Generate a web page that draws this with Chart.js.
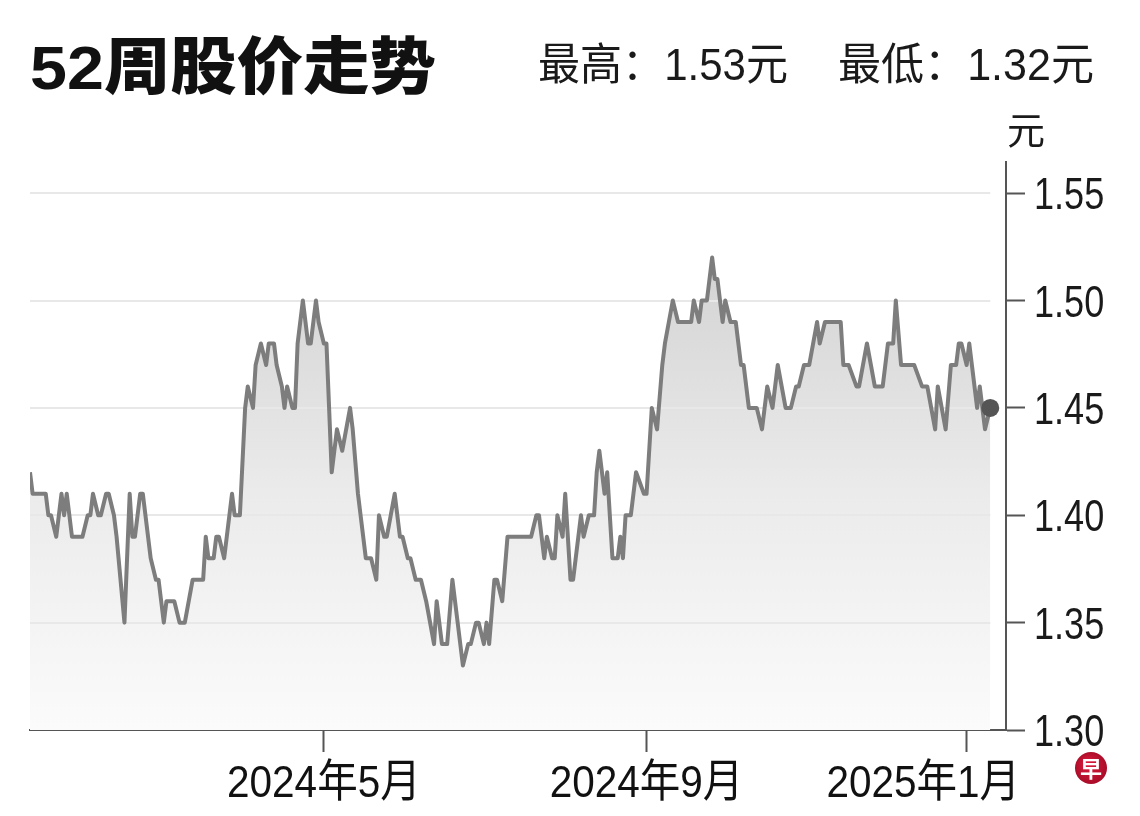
<!DOCTYPE html>
<html>
<head>
<meta charset="utf-8">
<script src="https://cdn.jsdelivr.net/npm/chart.js@4"></script>
<style>
  html, body { margin: 0; padding: 0; background: #ffffff; }
  canvas { display: block; }
</style>
</head>
<body>
<canvas id="c" width="1140" height="816"></canvas>
<script>
// ---------- DATA ----------
const TITLE = '52周股价走势';
const HIGH_TEXT = '最高：1.53元';
const LOW_TEXT = '最低：1.32元';
const UNIT = '元';

const DATES = [
  '2024-01-10','2024-01-11','2024-01-16','2024-01-17','2024-01-18','2024-01-20','2024-01-22','2024-01-23','2024-01-24','2024-01-26',
  '2024-01-30','2024-02-01','2024-02-02','2024-02-03','2024-02-05','2024-02-06','2024-02-08','2024-02-09','2024-02-11','2024-02-12',
  '2024-02-15','2024-02-17','2024-02-18','2024-02-19','2024-02-21','2024-02-22','2024-02-23','2024-02-25','2024-02-27','2024-02-28',
  '2024-03-01','2024-03-02','2024-03-05','2024-03-07','2024-03-09','2024-03-12','2024-03-16','2024-03-17','2024-03-18','2024-03-20',
  '2024-03-21','2024-03-22','2024-03-24','2024-03-27','2024-03-28','2024-03-30','2024-04-01','2024-04-02','2024-04-04','2024-04-05',
  '2024-04-07','2024-04-09','2024-04-10','2024-04-12','2024-04-13','2024-04-15','2024-04-16','2024-04-17','2024-04-19','2024-04-20',
  '2024-04-21','2024-04-22','2024-04-23','2024-04-25','2024-04-26','2024-04-28','2024-04-29','2024-05-01','2024-05-02','2024-05-04',
  '2024-05-06','2024-05-08','2024-05-11','2024-05-12','2024-05-14','2024-05-15','2024-05-17','2024-05-19','2024-05-21','2024-05-22',
  '2024-05-24','2024-05-25','2024-05-28','2024-05-30','2024-05-31','2024-06-02','2024-06-03','2024-06-05','2024-06-07','2024-06-09',
  '2024-06-12','2024-06-13','2024-06-15','2024-06-17','2024-06-19','2024-06-21','2024-06-23','2024-06-25','2024-06-26','2024-06-28',
  '2024-06-29','2024-07-01','2024-07-02','2024-07-03','2024-07-05','2024-07-06','2024-07-08','2024-07-10','2024-07-19','2024-07-21',
  '2024-07-22','2024-07-24','2024-07-25','2024-07-27','2024-07-28','2024-07-29','2024-07-31','2024-08-01','2024-08-03','2024-08-04',
  '2024-08-07','2024-08-08','2024-08-10','2024-08-12','2024-08-13','2024-08-14','2024-08-16','2024-08-17','2024-08-19','2024-08-21',
  '2024-08-22','2024-08-23','2024-08-24','2024-08-26','2024-08-28','2024-08-31','2024-09-01','2024-09-03','2024-09-05','2024-09-07',
  '2024-09-08','2024-09-11','2024-09-13','2024-09-18','2024-09-19','2024-09-21','2024-09-22','2024-09-24','2024-09-26','2024-09-27',
  '2024-09-28','2024-09-30','2024-10-01','2024-10-03','2024-10-05','2024-10-06','2024-10-07','2024-10-08','2024-10-10','2024-10-13',
  '2024-10-15','2024-10-17','2024-10-19','2024-10-21','2024-10-24','2024-10-26','2024-10-28','2024-10-29','2024-10-31','2024-11-02',
  '2024-11-05','2024-11-06','2024-11-08','2024-11-14','2024-11-15','2024-11-17','2024-11-20','2024-11-21','2024-11-24','2024-11-27',
  '2024-11-30','2024-12-02','2024-12-04','2024-12-05','2024-12-07','2024-12-12','2024-12-15','2024-12-17','2024-12-20','2024-12-21',
  '2024-12-24','2024-12-26','2024-12-28','2024-12-29','2024-12-30','2025-01-01','2025-01-02','2025-01-03','2025-01-05','2025-01-06',
  '2025-01-08','2025-01-10'
];

const PRICES = [
  1.42,1.41,1.41,1.40,1.40,1.39,1.41,1.40,1.41,1.39,
  1.39,1.40,1.40,1.41,1.40,1.40,1.41,1.41,1.40,1.39,
  1.35,1.41,1.39,1.39,1.41,1.41,1.40,1.38,1.37,1.37,
  1.35,1.36,1.36,1.35,1.35,1.37,1.37,1.39,1.38,1.38,
  1.39,1.39,1.38,1.41,1.40,1.40,1.45,1.46,1.45,1.47,
  1.48,1.47,1.48,1.48,1.47,1.46,1.45,1.46,1.45,1.45,
  1.48,1.49,1.50,1.48,1.48,1.50,1.49,1.48,1.48,1.42,
  1.44,1.43,1.45,1.44,1.41,1.40,1.38,1.38,1.37,1.40,
  1.39,1.39,1.41,1.39,1.39,1.38,1.38,1.37,1.37,1.36,
  1.34,1.36,1.34,1.34,1.37,1.35,1.33,1.34,1.34,1.35,
  1.35,1.34,1.35,1.34,1.37,1.37,1.36,1.39,1.39,1.40,
  1.40,1.38,1.39,1.38,1.38,1.40,1.39,1.41,1.37,1.37,
  1.40,1.39,1.40,1.40,1.42,1.43,1.41,1.42,1.38,1.38,
  1.39,1.38,1.40,1.40,1.42,1.41,1.41,1.45,1.44,1.47,
  1.48,1.50,1.49,1.49,1.50,1.49,1.50,1.50,1.52,1.51,
  1.51,1.49,1.50,1.49,1.49,1.48,1.47,1.47,1.45,1.45,
  1.44,1.46,1.45,1.47,1.45,1.45,1.46,1.46,1.47,1.47,
  1.49,1.48,1.49,1.49,1.47,1.47,1.46,1.46,1.48,1.46,
  1.46,1.48,1.48,1.50,1.47,1.47,1.46,1.46,1.44,1.46,
  1.44,1.47,1.47,1.48,1.48,1.47,1.48,1.47,1.45,1.46,
  1.44,1.45
];

const Y_TICKS = [1.30, 1.35, 1.40, 1.45, 1.50, 1.55];
const Y_MIN = 1.30;
const Y_MAX = 1.5645;
const X_TICK_DATES = ['2024-05-01', '2024-09-01', '2025-01-01'];
const X_TICK_LABELS = ['2024年5月', '2024年9月', '2025年1月'];
const X_MIN_DATE = '2024-01-10';
const X_MAX_DATE = '2025-01-16';

// ---------- HELPERS ----------
function dayNum(s) {
  const [y, m, d] = s.split('-').map(Number);
  return (Date.UTC(y, m - 1, d) - Date.UTC(2024, 0, 1)) / 86400000;
}
const points = DATES.map((d, i) => ({ x: dayNum(d), y: PRICES[i] }));
const LAST = points.length - 1;

function drawText(ctx, text, x, baseline, font, color, opts) {
  opts = opts || {};
  ctx.save();
  ctx.font = font;
  ctx.fillStyle = color;
  ctx.textBaseline = 'alphabetic';
  ctx.textAlign = 'left';
  const w = ctx.measureText(text).width;
  let sx = opts.scaleX || 1;
  if (opts.width) sx = opts.width / w;
  let left = x;
  if (opts.align === 'center') left = x - (w * sx) / 2;
  if (opts.maxRight !== undefined && left + w * sx > opts.maxRight) left = opts.maxRight - w * sx;
  ctx.translate(left, baseline);
  ctx.scale(sx, 1);
  ctx.fillText(text, 0, 0);
  ctx.restore();
}

const CJK = '"Liberation Sans", "Noto Sans CJK SC", sans-serif';

const decor = {
  id: 'decor',
  afterDatasetDraw(chart, args) {
    if (args.index !== 1) return;
    const ctx = chart.ctx;
    const ys = chart.scales.y, xs = chart.scales.x;
    const ca = chart.chartArea;
    const xEnd = xs.getPixelForValue(points[LAST].x);
    ctx.save();
    ctx.strokeStyle = '#e8e8e8';
    ctx.lineWidth = 2;
    Y_TICKS.forEach(v => {
      if (v <= Y_MIN) return;
      const y = Math.round(ys.getPixelForValue(v));
      ctx.beginPath();
      ctx.moveTo(ca.left, y);
      ctx.lineTo(xEnd, y);
      ctx.stroke();
    });
    ctx.restore();
  },
  afterDraw(chart) {
    const ctx = chart.ctx;
    const xs = chart.scales.x, ys = chart.scales.y;
    const ca = chart.chartArea;
    // Title & stats
    drawText(ctx, TITLE, 30, 89, '900 62px ' + CJK, '#111', { width: 406 });
    drawText(ctx, HIGH_TEXT, 538, 80, '44px ' + CJK, '#1a1a1a', { width: 250 });
    drawText(ctx, LOW_TEXT, 838, 80, '44px ' + CJK, '#1a1a1a', { width: 256 });
    // unit
    drawText(ctx, UNIT, 1007, 144, '38px "Noto Sans CJK SC", sans-serif', '#1a1a1a');
    // y tick labels
    Y_TICKS.forEach(v => {
      const y = ys.getPixelForValue(v);
      drawText(ctx, v.toFixed(2), ca.right + 28, y + 16, '44px "Liberation Sans", sans-serif', '#1a1a1a', { scaleX: 0.82 });
    });
    // x labels
    X_TICK_DATES.forEach((d, i) => {
      const x = xs.getPixelForValue(dayNum(d));
      drawText(ctx, X_TICK_LABELS[i], x, 797, '45px ' + CJK, '#111', { align: 'center', scaleX: 0.9, maxRight: 1020 });
    });
    // logo
    ctx.save();
    const g = ctx.createRadialGradient(1087, 763, 2, 1091, 768, 17);
    g.addColorStop(0, '#d81a3c');
    g.addColorStop(1, '#a80c28');
    ctx.fillStyle = g;
    ctx.beginPath();
    ctx.arc(1091, 768, 16, 0, Math.PI * 2);
    ctx.fill();
    ctx.fillStyle = '#ffffff';
    ctx.font = 'bold 22px "Noto Sans CJK SC", sans-serif';
    ctx.textAlign = 'center';
    ctx.textBaseline = 'middle';
    ctx.fillText('早', 1091, 769);
    ctx.restore();
  }
};

const ctx = document.getElementById('c').getContext('2d');
new Chart(ctx, {
  type: 'line',
  data: {
    datasets: [
      {
        label: 'line',
        data: points,
        borderColor: '#7d7d7d',
        borderWidth: 4,
        borderJoinStyle: 'round',
        fill: false,
        tension: 0,
        pointRadius: c => (c.dataIndex === LAST ? 9 : 0),
        pointHoverRadius: 0,
        pointBackgroundColor: '#555555',
        pointBorderWidth: 0
      },
      {
        label: 'area',
        data: points,
        borderWidth: 0,
        pointRadius: 0,
        tension: 0,
        fill: 'start',
        backgroundColor: c => {
          const chart = c.chart;
          const ca = chart.chartArea;
          if (!ca) return '#eeeeee';
          const top = chart.scales.y.getPixelForValue(1.52);
          const g = chart.ctx.createLinearGradient(0, top, 0, ca.bottom);
          g.addColorStop(0, '#d3d3d3');
          g.addColorStop(0.5, '#ebebeb');
          g.addColorStop(1, '#fbfbfb');
          return g;
        }
      }
    ]
  },
  options: {
    responsive: false,
    animation: false,
    devicePixelRatio: 1,
    layout: { padding: { top: 162, left: 30, right: 0, bottom: 0 } },
    plugins: { legend: { display: false }, tooltip: { enabled: false } },
    events: [],
    scales: {
      x: {
        type: 'linear',
        position: 'bottom',
        min: dayNum(X_MIN_DATE),
        max: dayNum(X_MAX_DATE),
        afterBuildTicks: s => { s.ticks = X_TICK_DATES.map(d => ({ value: dayNum(d) })); },
        afterFit: s => { s.height = 86; },
        ticks: { display: false },
        grid: { drawOnChartArea: false, drawTicks: true, tickLength: 22, tickColor: '#555555', tickWidth: 2 },
        border: { display: true, color: '#555555', width: 2 }
      },
      y: {
        type: 'linear',
        position: 'right',
        min: Y_MIN,
        max: Y_MAX,
        afterBuildTicks: s => { s.ticks = Y_TICKS.map(v => ({ value: v })); },
        afterFit: s => { s.width = 134; },
        ticks: { display: false },
        grid: { drawOnChartArea: false, drawTicks: true, tickLength: 19, tickColor: '#555555', tickWidth: 2 },
        border: { display: true, color: '#555555', width: 2 }
      }
    }
  },
  plugins: [decor]
});
</script>
</body>
</html>
